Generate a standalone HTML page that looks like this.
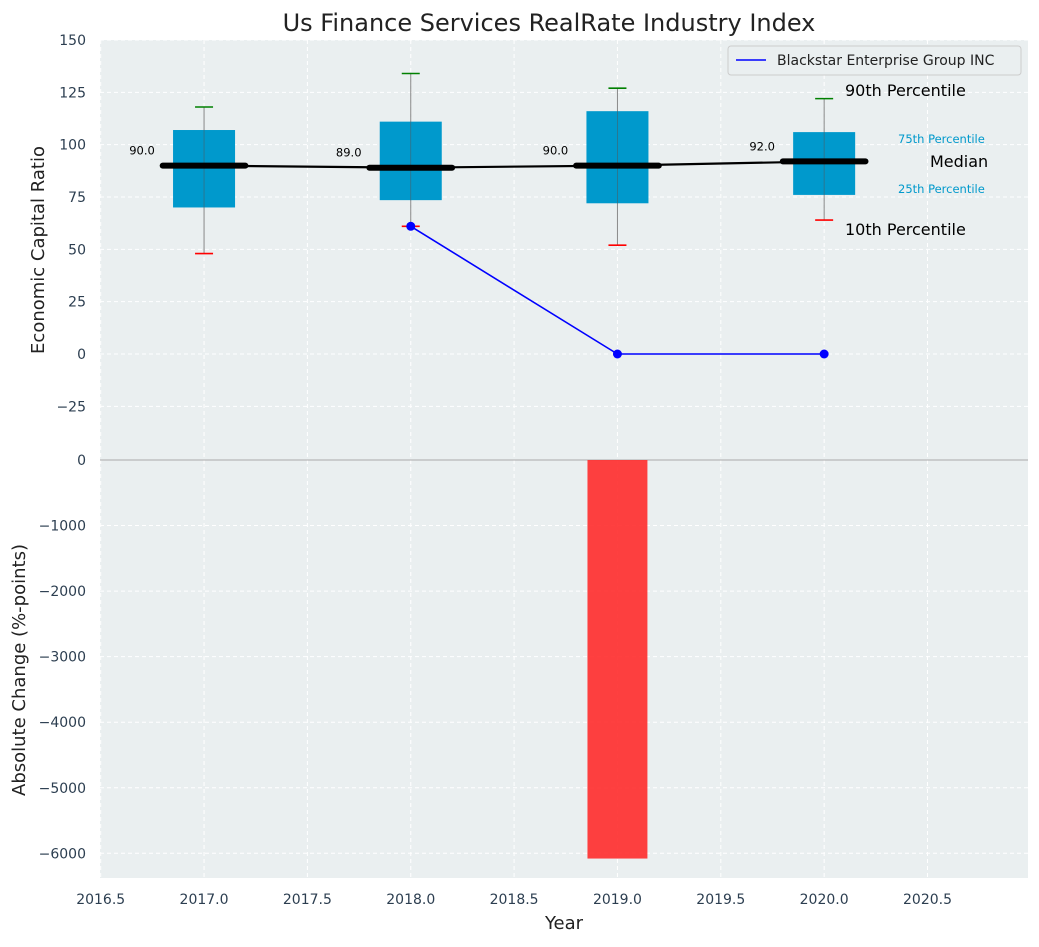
<!DOCTYPE html>
<html><head><meta charset="utf-8"><style>
body{margin:0;background:#fff;font-family:"Liberation Sans","DejaVu Sans",sans-serif}
svg text{font-family:"DejaVu Sans","Liberation Sans",sans-serif}
</style></head><body>
<svg id="c" width="1039" height="942" xmlns="http://www.w3.org/2000/svg"></svg>
<script>
const years=[2017,2018,2019,2020];
const p10=[48,61,52,64];
const p25=[70,73.5,72,76];
const med=[90,89,90,92];
const p75=[107,111,116,106];
const p90=[118,134,127,122];
const compYears=[2018,2019,2020];
const compVals=[61,0,0];
const changeYears=[2019];
const changeVals=[-6080];
const topTicks=[-25,0,25,50,75,100,125,150];
const botTicks=[-6000,-5000,-4000,-3000,-2000,-1000,0];
const xTicks=[2016.5,2017,2017.5,2018,2018.5,2019,2019.5,2020,2020.5];

const NS="http://www.w3.org/2000/svg";
const svg=document.getElementById('c');
function el(t,a,txt){const e=document.createElementNS(NS,t);for(const k in a)e.setAttribute(k,a[k]);if(txt!==undefined)e.textContent=txt;svg.appendChild(e);return e;}
const L=100,R=1028,T1=40,B1=460,B2=878;
const X=v=>100.7+(v-2016.5)*206.7;
const Y1=v=>354-v*2.0933;
const Y2=v=>460-v*0.06555;

let e;
e=el('rect',{x:L,y:T1,width:R-L,height:B1-T1,fill:'#eaeff0'});

e=el('rect',{x:L,y:B1,width:R-L,height:B2-B1,fill:'#eaeff0'});

// grids
xTicks.forEach(t=>{
 e=el('line',{x1:X(t),x2:X(t),y1:T1,y2:B2,stroke:'#fff','stroke-dasharray':'4,3','stroke-width':1});
 
 e=el('text',{x:X(t),y:904,'text-anchor':'middle','font-size':14,fill:'#2c3e50'},t.toFixed(1));
 
});
topTicks.forEach(t=>{
 e=el('line',{x1:L,x2:R,y1:Y1(t),y2:Y1(t),stroke:'#fff','stroke-dasharray':'4,3'});
 
 e=el('text',{x:86,y:Y1(t)+5,'text-anchor':'end','font-size':14,fill:'#2c3e50'},t<0?'\u2212'+(-t):t);
 
});
botTicks.forEach(t=>{
 e=el('line',{x1:L,x2:R,y1:Y2(t),y2:Y2(t),stroke:'#fff','stroke-dasharray':'4,3'});
 
 e=el('text',{x:86,y:Y2(t)+5,'text-anchor':'end','font-size':14,fill:'#2c3e50'},t<0?'\u2212'+(-t):t);
 
});
e=el('line',{x1:L,x2:R,y1:B1,y2:B1,stroke:'#aaa','stroke-width':1});

// boxes
years.forEach((yr,i)=>{
 const cx=X(yr),hw=0.15*206.7;
 e=el('line',{x1:cx,x2:cx,y1:Y1(p90[i]),y2:Y1(p10[i]),stroke:'#888','stroke-width':1});
 
 e=el('rect',{x:cx-hw,y:Y1(p75[i]),width:2*hw,height:Y1(p25[i])-Y1(p75[i]),fill:'#0099cc'});
 
 e=el('line',{x1:cx,x2:cx,y1:Y1(p75[i]),y2:Y1(p25[i]),stroke:'#555','stroke-width':0.8,opacity:0.6});
 
 e=el('line',{x1:cx-9,x2:cx+9,y1:Y1(p90[i]),y2:Y1(p90[i]),stroke:'green','stroke-width':1.6});
 
 e=el('line',{x1:cx-9,x2:cx+9,y1:Y1(p10[i]),y2:Y1(p10[i]),stroke:'red','stroke-width':1.6});
 
 e=el('line',{x1:cx-0.2*206.7,x2:cx+0.2*206.7,y1:Y1(med[i]),y2:Y1(med[i]),stroke:'#000','stroke-width':6,'stroke-linecap':'round'});
 
 e=el('text',{x:X(yr-0.3),y:Y1(med[i])-11,'text-anchor':'middle','font-size':11.5,fill:'#000'},med[i].toFixed(1));
 
});
e=el('polyline',{points:years.map((y,i)=>X(y)+','+Y1(med[i])).join(' '),fill:'none',stroke:'#000','stroke-width':2.2});

// company
e=el('polyline',{points:compYears.map((y,i)=>X(y)+','+Y1(compVals[i])).join(' '),fill:'none',stroke:'blue','stroke-width':1.6});

compYears.forEach((y,i)=>{e=el('circle',{cx:X(y),cy:Y1(compVals[i]),r:4.5,fill:'blue'});
 });
// bars
changeYears.forEach((y,i)=>{const hw=0.145*206.7;
 e=el('rect',{x:X(y)-hw,y:Y2(0),width:2*hw,height:Y2(changeVals[i])-Y2(0),fill:'#ff2b2b',opacity:0.9});
 });
// annotations
const ann=[[845,96,'90th Percentile',16,'#000','start'],[898,143,'75th Percentile',11.5,'#0099cc','start'],[930,167,'Median',16,'#000','start'],[898,193,'25th Percentile',11.5,'#0099cc','start'],[845,235,'10th Percentile',16,'#000','start']];
ann.forEach(a=>{e=el('text',{x:a[0],y:a[1],'font-size':a[3],fill:a[4]},a[2]);
 });
// legend
e=el('rect',{x:728,y:46,width:293,height:29,fill:'#eaeff0',stroke:'#ccc',rx:3});

e=el('line',{x1:736,x2:766,y1:60,y2:60,stroke:'blue','stroke-width':1.6});

e=el('text',{x:777,y:65,'font-size':14,fill:'#222'},'Blackstar Enterprise Group INC');

// titles
e=el('text',{x:549,y:31,'text-anchor':'middle','font-size':24,fill:'#222'},'Us Finance Services RealRate Industry Index');

e=el('text',{x:564,y:929,'text-anchor':'middle','font-size':18,fill:'#222'},'Year');

e=el('text',{x:0,y:0,transform:'translate(44,250) rotate(-90)','text-anchor':'middle','font-size':18,fill:'#222'},'Economic Capital Ratio');

e=el('text',{x:0,y:0,transform:'translate(25,670) rotate(-90)','text-anchor':'middle','font-size':18,fill:'#222'},'Absolute Change (%-points)');

</script>
</body></html>
